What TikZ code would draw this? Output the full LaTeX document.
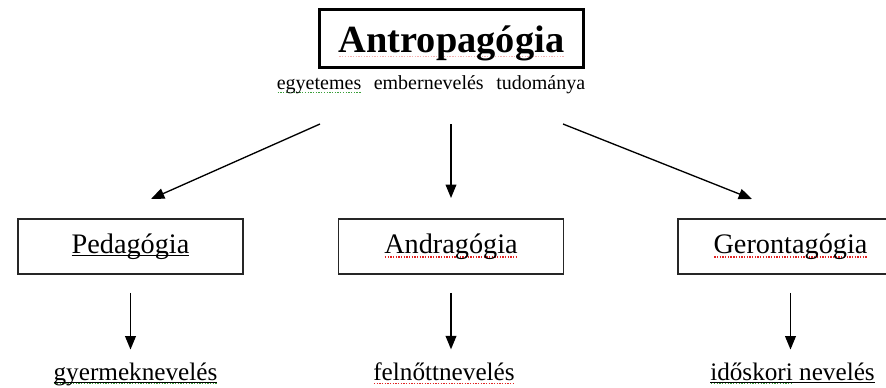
\documentclass[tikz,border=0pt]{standalone}
\usepackage{fontspec}
\setmainfont{Liberation Serif}
\usepackage{xcolor}
\usetikzlibrary{arrows.meta}
\definecolor{spellred}{RGB}{225,35,35}
\definecolor{spellgreen}{RGB}{60,160,60}
\newcommand{\spelldots}[2]{\setbox0=\hbox{#2}\leavevmode\rlap{\raisebox{-3.2pt}[0pt][0pt]{\hbox to \wd0{\color{#1}\xleaders\hbox to 2pt{\hss\rule{1pt}{0.9pt}\hss}\hfill}}}\box0\relax}
\newcommand{\wordline}[1]{\setbox0=\hbox{#1}\leavevmode\rlap{\rule[-2.2pt]{\wd0}{0.8pt}}\box0\relax}

\begin{document}
\begin{tikzpicture}[x=0.75pt,y=-0.75pt,
  titlebox/.style={draw,line width=2.4pt,minimum width=198pt,minimum height=43.5pt,inner sep=0pt,font=\fontsize{28.8}{32}\selectfont\bfseries},
  fieldbox/.style={draw=black!85,line width=1.1pt,minimum width=169pt,minimum height=41.5pt,inner sep=0pt,font=\fontsize{21.2}{25}\selectfont},
  fieldtext/.style={anchor=base,inner sep=0pt,font=\fontsize{18.9}{22}\selectfont},
  arr/.style={line width=1pt,-{Triangle[length=10pt,width=8pt]}}]
  \useasboundingbox (0,0) rectangle (886,387);
  \coordinate (s1) at (320,124);
  \coordinate (t1) at (151,199);
  \coordinate (s2) at (451,124);
  \coordinate (t2) at (451,198);
  \coordinate (s3) at (563,124);
  \coordinate (t3) at (752,199);
  \node[titlebox] (antro) at (451.5,38.5) {\raisebox{-4pt}[\height][\depth]{\spelldots{spellred!35}{Antropagógia}}};
  \node[anchor=base,inner sep=0pt,font=\fontsize{15}{18}\selectfont] (sub) at (431,89) {\spelldots{spellgreen}{egyetemes}\hspace{9.4pt}embernevelés\hspace{9.4pt}tudománya};
  \node[fieldbox] (ped) at (130.5,246.5) {\wordline{Pedagógia}};
  \node[fieldbox] (andr) at (451,246.5) {\spelldots{spellred}{Andragógia}};
  \node[fieldbox] (geront) at (790.5,246.5) {\spelldots{spellred}{Gerontagógia}};
  \node[fieldtext] (gyermek) at (135.5,380) {\spelldots{spellgreen}{\wordline{gyermeknevelés}}};
  \node[fieldtext] (felnott) at (444,380) {\spelldots{spellred}{felnőttnevelés}};
  \node[fieldtext] (idos) at (792.5,380) {\wordline{\spelldots{spellgreen}{időskori} nevelés}};
  \draw[arr] (s1) -- (t1);
  \draw[arr] (s2) -- (t2);
  \draw[arr] (s3) -- (t3);
  \draw[arr,shorten <=13.5pt,shorten >=9.5pt] (ped.south) -- (ped.south |- gyermek.north);
  \draw[arr,shorten <=13.5pt,shorten >=9.5pt] (andr.south) -- (andr.south |- felnott.north);
  \draw[arr,shorten <=13.5pt,shorten >=9.5pt] (geront.south) -- (geront.south |- idos.north);
\end{tikzpicture}
\end{document}
